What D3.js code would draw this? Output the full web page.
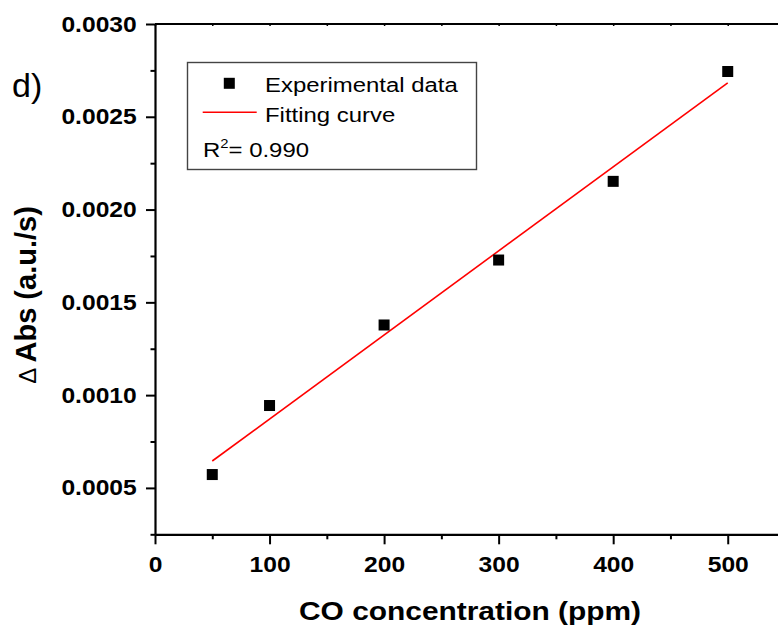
<!DOCTYPE html>
<html>
<head>
<meta charset="utf-8">
<script src="https://cdn.jsdelivr.net/npm/d3@7"></script>
<style>
  body { margin: 0; background: #fff; }
  svg { display: block; }
  text { font-family: "Liberation Sans", Arial, sans-serif; }
</style>
</head>
<body>
<svg id="chart" width="778" height="630"></svg>
<script>
// values
const concX = [50, 100, 200, 300, 400, 500];
const absY = [0.000572, 0.000944, 0.001378, 0.001728, 0.002152, 0.002744];
const fitX = [50, 500];
const fitY = [0.000645, 0.002683];
const xTicks = [0, 100, 200, 300, 400, 500];
const xMinor = [50, 150, 250, 350, 450, 550];
const yTicks = [0.0005, 0.0010, 0.0015, 0.0020, 0.0025, 0.0030];
const yMinor = [0.00025, 0.00075, 0.00125, 0.00175, 0.00225, 0.00275];

const svg = d3.select('#chart');
const plotLeft = 155, plotTop = 24, plotBottom = 534.3, plotRight = 785;

let x = d3.scaleLinear().domain([0, 550]).range([plotLeft, plotRight]);
let y = d3.scaleLinear().domain([0.00025, 0.0030]).range([plotBottom, plotTop]);

// minor ticks first
svg.append('g')
  .attr('transform', `translate(${plotLeft},0)`)
  .call(d3.axisLeft(y).tickValues(yMinor).tickSize(4.5).tickFormat(''))
  .call(g => g.select('.domain').remove())
  .selectAll('line').attr('stroke-width', 2);

svg.append('g')
  .attr('transform', `translate(0,${plotBottom})`)
  .call(d3.axisBottom(x).tickValues(xMinor).tickSize(5).tickFormat(''))
  .call(g => g.select('.domain').remove())
  .selectAll('line').attr('stroke-width', 2);

// top frame with tiny inward ticks
svg.append('g')
  .attr('transform', `translate(0,${plotTop})`)
  .call(d3.axisBottom(x).tickValues(xTicks.concat(xMinor)).tickSize(2).tickFormat(''))
  .call(g => g.select('.domain').remove())
  .selectAll('line').attr('stroke-width', 1.5);
svg.append('line')
  .attr('x1', plotLeft).attr('x2', plotRight)
  .attr('y1', plotTop).attr('y2', plotTop)
  .attr('stroke', '#000').attr('stroke-width', 2.2);

// main y axis
let yAxis = svg.append('g')
  .attr('transform', `translate(${plotLeft},0)`)
  .call(d3.axisLeft(y).tickValues(yTicks).tickSize(9).tickPadding(7.3).tickSizeOuter(0)
    .tickFormat(d3.format('.4f')));
yAxis.select('.domain').attr('stroke-width', 2.2);
yAxis.selectAll('.tick line').attr('stroke-width', 2);
yAxis.selectAll('text')
  .attr('font-size', 22).attr('font-weight', 'bold').attr('fill', '#000')
  .attr('transform', 'scale(1.12,1)');

// main x axis
let xAxis = svg.append('g')
  .attr('transform', `translate(0,${plotBottom})`)
  .call(d3.axisBottom(x).tickValues(xTicks).tickSize(10).tickPadding(12).tickSizeOuter(0));
xAxis.select('.domain').attr('stroke-width', 2.2);
xAxis.selectAll('.tick line').attr('stroke-width', 2);
xAxis.selectAll('text')
  .attr('font-size', 22).attr('font-weight', 'bold').attr('fill', '#000')
  .attr('transform', 'scale(1.12,1)');

// fitted line
svg.append('path')
  .datum(fitX.map((d, i) => [d, fitY[i]]))
  .attr('fill', 'none')
  .attr('stroke', '#ff0000')
  .attr('stroke-width', 1.6)
  .attr('d', d3.line().x(d => x(d[0])).y(d => y(d[1])));

// data squares
const sq = 11;
svg.append('g').selectAll('rect')
  .data(concX.map((d, i) => [d, absY[i]]))
  .enter()
  .append('rect')
    .attr('x', d => x(d[0]) - sq / 2)
    .attr('y', d => y(d[1]) - sq / 2)
    .attr('width', sq)
    .attr('height', sq)
    .attr('fill', '#000');

// axis titles
svg.append('text')
  .attr('transform', 'translate(470,620) scale(1.15,1)')
  .attr('text-anchor', 'middle')
  .attr('font-size', 26).attr('font-weight', 'bold')
  .text('CO concentration (ppm)');

let yTitle = svg.append('text')
  .attr('transform', 'translate(36,295) rotate(-90)')
  .attr('text-anchor', 'middle')
  .attr('font-size', 29).attr('font-weight', 'bold');
yTitle.append('tspan').attr('font-weight', 'normal').attr('font-size', 24).text('\u0394 ');
yTitle.append('tspan').text('Abs (a.u./s)');

// panel letter
svg.append('text')
  .attr('x', 12).attr('y', 96.7)
  .attr('font-size', 34)
  .text('d)');

// legend
let legend = svg.append('g');
legend.append('rect')
  .attr('x', 187.5).attr('y', 62.5)
  .attr('width', 289).attr('height', 107)
  .attr('fill', 'none').attr('stroke', '#444').attr('stroke-width', 1.4);
legend.append('rect')
  .attr('x', 229.3 - sq / 2).attr('y', 83.3 - sq / 2)
  .attr('width', sq).attr('height', sq).attr('fill', '#000');
legend.append('line')
  .attr('x1', 202.7).attr('x2', 256.7)
  .attr('y1', 112.3).attr('y2', 112.3)
  .attr('stroke', '#ff0000').attr('stroke-width', 1.6);
legend.append('text')
  .attr('transform', 'translate(265,91.7) scale(1.14,1)')
  .attr('font-size', 21).text('Experimental data');
legend.append('text')
  .attr('transform', 'translate(265,121.7) scale(1.14,1)')
  .attr('font-size', 21).text('Fitting curve');
let r2 = legend.append('text')
  .attr('transform', 'translate(203,156.7) scale(1.14,1)')
  .attr('font-size', 21);
r2.append('tspan').text('R');
r2.append('tspan').attr('font-size', 13).attr('dy', -9).text('2');
r2.append('tspan').attr('dy', 9).text('= 0.990');
</script>
</body>
</html>
